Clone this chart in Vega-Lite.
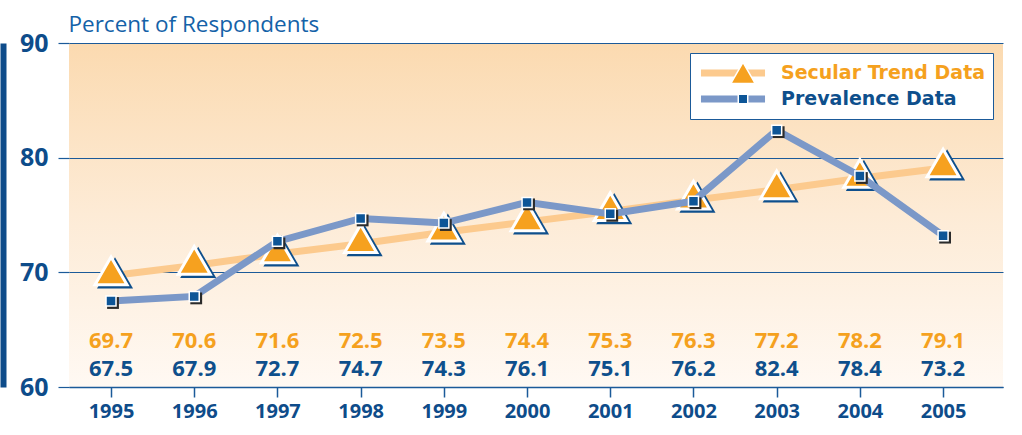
{
  "$schema": "https://vega.github.io/schema/vega-lite/v6.json",
  "width": 934,
  "height": 344,
  "autosize": "none",
  "padding": {"left": 69, "top": 43, "right": 19, "bottom": 48},
  "background": "white",
  "config": {
    "font": "Open Sans",
    "view": {
      "stroke": null,
      "fill": {"gradient": "linear", "x1": 0, "y1": 0, "x2": 0, "y2": 1,
        "stops": [{"offset": 0, "color": "#fbdab0"}, {"offset": 0.5, "color": "#fdebd6"}, {"offset": 1, "color": "#fff9f3"}]}
    },
    "axisX": {
      "domainColor": "#1b5a99", "domainWidth": 1.5, "tickColor": "#1b5a99", "tickWidth": 1.5, "tickSize": 10,
      "labelFont": "Open Sans", "labelFontWeight": "bold", "labelFontSize": 20, "labelColor": "#0e4c8a",
      "labelPadding": 4, "grid": false, "title": null
    }
  },
  "datasets": {
    "d": [
      {"year": 1995, "series": "Secular Trend Data", "value": 69.7},
      {"year": 1996, "series": "Secular Trend Data", "value": 70.6},
      {"year": 1997, "series": "Secular Trend Data", "value": 71.6},
      {"year": 1998, "series": "Secular Trend Data", "value": 72.5},
      {"year": 1999, "series": "Secular Trend Data", "value": 73.5},
      {"year": 2000, "series": "Secular Trend Data", "value": 74.4},
      {"year": 2001, "series": "Secular Trend Data", "value": 75.3},
      {"year": 2002, "series": "Secular Trend Data", "value": 76.3},
      {"year": 2003, "series": "Secular Trend Data", "value": 77.2},
      {"year": 2004, "series": "Secular Trend Data", "value": 78.2},
      {"year": 2005, "series": "Secular Trend Data", "value": 79.1},
      {"year": 1995, "series": "Prevalence Data", "value": 67.5},
      {"year": 1996, "series": "Prevalence Data", "value": 67.9},
      {"year": 1997, "series": "Prevalence Data", "value": 72.7},
      {"year": 1998, "series": "Prevalence Data", "value": 74.7},
      {"year": 1999, "series": "Prevalence Data", "value": 74.3},
      {"year": 2000, "series": "Prevalence Data", "value": 76.1},
      {"year": 2001, "series": "Prevalence Data", "value": 75.1},
      {"year": 2002, "series": "Prevalence Data", "value": 76.2},
      {"year": 2003, "series": "Prevalence Data", "value": 82.4},
      {"year": 2004, "series": "Prevalence Data", "value": 78.4},
      {"year": 2005, "series": "Prevalence Data", "value": 73.2}
    ]
  },
  "data": {"name": "d"},
  "resolve": {"axis": {"y": "independent"}},
  "layer": [
    {
      "transform": [{"filter": "datum.series == 'Secular Trend Data'"}],
      "mark": {"type": "line", "strokeWidth": 7},
      "encoding": {
        "x": {"field": "year", "type": "quantitative", "scale": {"domain": [1994.495, 2005.72], "nice": false, "zero": false},
          "axis": {"values": [1995, 1996, 1997, 1998, 1999, 2000, 2001, 2002, 2003, 2004, 2005], "format": "d"}},
        "y": {"field": "value", "type": "quantitative", "scale": {"domain": [60, 90], "nice": false, "zero": false},
          "axis": {"orient": "left", "values": [60, 70, 80, 90], "grid": true, "gridColor": "#1b5a99", "gridWidth": 1.2,
            "domain": false, "tickSize": 11, "tickColor": "#1b5a99", "tickWidth": 1.2,
            "labelFont": "Open Sans", "labelFontWeight": "bold", "labelFontSize": 25, "labelColor": "#0e4c8a",
            "labelPadding": 10,
            "title": "Percent of Respondents", "titleAngle": 0, "titleX": -1, "titleY": -12,
            "titleAlign": "left", "titleBaseline": "alphabetic", "titleFont": "Open Sans", "titleFontSize": 22.5,
            "titleFontWeight": "normal", "titleColor": "#1462a8"}},
        "color": {"field": "series", "type": "nominal",
          "scale": {"domain": ["Secular Trend Data", "Prevalence Data"], "range": ["#fcca8e", "#7b98c8"]},
          "legend": {"orient": "top-right", "offset": 10, "title": null, "fillColor": "white", "strokeColor": "#1b5a99",
            "padding": 7, "symbolType": "stroke", "symbolStrokeWidth": 7, "symbolSize": 4100,
            "labelFont": "DejaVu Sans", "labelFontWeight": "bold", "labelFontSize": 19, "labelOffset": 12,
            "labelLimit": 300, "clipHeight": 26, "rowPadding": 0,
            "encode": {"labels": {"update": {"fill": {"signal": "datum.value == 'Secular Trend Data' ? '#f5a11e' : '#0e4f8c'"}}}}}}
      }
    },
    {
      "transform": [{"filter": "datum.series == 'Secular Trend Data'"}],
      "mark": {"type": "point", "shape": "triangle-up", "filled": true, "color": "#0e4f8c", "opacity": 1, "size": 1300, "xOffset": 4, "yOffset": -3},
      "encoding": {
        "x": {"field": "year", "type": "quantitative"},
        "y": {"field": "value", "type": "quantitative",
          "axis": {"orient": "left", "offset": 66, "domain": true, "domainColor": "#0e4c8a", "domainWidth": 6,
            "labels": false, "ticks": false, "grid": false, "title": null}}
      }
    },
    {
      "transform": [{"filter": "datum.series == 'Secular Trend Data'"}],
      "mark": {"type": "point", "shape": {"expr": "(datum.series || datum.value) == 'Prevalence Data' ? 'square' : 'triangle-up'"},
        "filled": true, "opacity": 1, "size": 1024, "stroke": "white", "strokeWidth": 3, "strokeOpacity": 1, "yOffset": -5},
      "encoding": {
        "x": {"field": "year", "type": "quantitative"},
        "y": {"field": "value", "type": "quantitative", "axis": null},
        "fill": {"field": "series", "type": "nominal",
          "scale": {"domain": ["Secular Trend Data", "Prevalence Data"], "range": ["#f6a11f", "#0d5597"]},
          "legend": {"orient": "none", "legendX": 654, "legendY": 10, "title": null, "labelExpr": "''",
            "padding": 7, "clipHeight": 26, "rowPadding": 0, "labelFontSize": 19,
            "symbolType": {"expr": "datum.value == 'Prevalence Data' ? 'square' : 'triangle-up'"},
            "symbolSize": {"expr": "datum.value == 'Prevalence Data' ? 90 : 600"},
            "symbolStrokeColor": "white", "symbolStrokeWidth": 1.5, "symbolOpacity": 1}}
      }
    },
    {
      "transform": [{"filter": "datum.series == 'Prevalence Data'"}],
      "mark": {"type": "line", "strokeWidth": 7},
      "encoding": {
        "x": {"field": "year", "type": "quantitative"},
        "y": {"field": "value", "type": "quantitative", "axis": null},
        "color": {"field": "series", "type": "nominal"}
      }
    },
    {
      "transform": [{"filter": "datum.series == 'Prevalence Data'"}],
      "mark": {"type": "point", "shape": "square", "filled": true, "color": "#2b2b2b", "opacity": 1, "size": 140, "xOffset": 2, "yOffset": 2},
      "encoding": {
        "x": {"field": "year", "type": "quantitative"},
        "y": {"field": "value", "type": "quantitative", "axis": null}
      }
    },
    {
      "transform": [{"filter": "datum.series == 'Prevalence Data'"}],
      "mark": {"type": "point", "shape": "square", "filled": true, "opacity": 1, "size": 100, "stroke": "white", "strokeWidth": 1.5, "strokeOpacity": 1},
      "encoding": {
        "x": {"field": "year", "type": "quantitative"},
        "y": {"field": "value", "type": "quantitative", "axis": null},
        "fill": {"field": "series", "type": "nominal", "legend": null}
      }
    },
    {
      "transform": [{"filter": "datum.series == 'Secular Trend Data'"}],
      "mark": {"type": "text", "font": "Open Sans", "fontWeight": "bold", "fontSize": 22, "color": "#f5a11e", "baseline": "middle", "align": "center"},
      "encoding": {
        "x": {"field": "year", "type": "quantitative"},
        "y": {"datum": 64.0, "type": "quantitative", "axis": null},
        "text": {"field": "value", "type": "quantitative", "format": ".1f"}
      }
    },
    {
      "transform": [{"filter": "datum.series == 'Prevalence Data'"}],
      "mark": {"type": "text", "font": "Open Sans", "fontWeight": "bold", "fontSize": 22, "color": "#0e4f8c", "baseline": "middle", "align": "center"},
      "encoding": {
        "x": {"field": "year", "type": "quantitative"},
        "y": {"datum": 61.6, "type": "quantitative", "axis": null},
        "text": {"field": "value", "type": "quantitative", "format": ".1f"}
      }
    }
  ]
}
